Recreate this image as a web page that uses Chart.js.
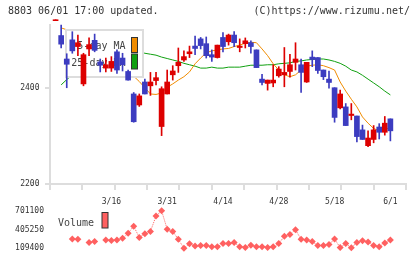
<!DOCTYPE html>
<html>
<head>
<meta charset="utf-8">
<script src="https://cdn.jsdelivr.net/npm/chart.js@4.4.0/dist/chart.umd.min.js"></script>
<style>
  html, body { margin: 0; padding: 0; background: #fff; }
  #wrap { position: relative; width: 420px; height: 259px; overflow: hidden; font-family: "DejaVu Sans Mono", monospace; }
  .hdr { position: absolute; top: 6px; font-size: 10px; line-height: 10px; color: #333; white-space: pre; }
  #main { position: absolute; left: 0; top: 0; }
  #vol { position: absolute; left: 0; top: 200px; }
</style>
</head>
<body>
<div id="wrap">
  <canvas id="main" width="420" height="210"></canvas>
  <canvas id="vol" width="420" height="59"></canvas>
  <div class="hdr" style="left:8px">8803 06/01 17:00 updated.</div>
  <div class="hdr" style="right:10px">(C)https://www.rizumu.net/</div>
</div>
<script>
// trading days 3/2 .. 6/1
const dates = ['3/2','3/3','3/4','3/5','3/6','3/9','3/10','3/11','3/12','3/13',
  '3/16','3/17','3/18','3/19','3/23','3/24','3/25','3/26','3/27','3/30','3/31',
  '4/1','4/2','4/3','4/6','4/7','4/8','4/9','4/10','4/13','4/14',
  '4/15','4/16','4/17','4/20','4/21','4/22','4/23','4/24','4/27','4/28',
  '4/30','5/1','5/7','5/8','5/11','5/12','5/13','5/14','5/15','5/18',
  '5/19','5/20','5/21','5/22','5/25','5/26','5/27','5/28','5/29','6/1'];
const xLabels = ['3/16','3/31','4/14','4/28','5/18','6/1'];
const yTicks = [2200, 2400];

const open  = [2541,2510,2461,2501,2487,2409,2482,2500,2455,2442,
  2442,2476,2463,2435,2388,2365,2413,2405,2416,2320,2388,
  2428,2447,2459,2472,2488,2503,2493,2470,2464,2506,
  2497,2511,2485,2493,2495,2480,2419,2410,2411,2426,
  2428,2435,2454,2449,2413,2465,2464,2438,2419,2401,
  2359,2361,2343,2342,2313,2280,2293,2319,2308,2336];
const high  = [2543,2532,2472,2518,2511,2473,2505,2513,2461,2463,
  2466,2480,2473,2438,2391,2388,2419,2433,2433,2403,2438,
  2447,2484,2478,2488,2509,2506,2507,2480,2490,2516,
  2513,2518,2503,2505,2499,2480,2429,2417,2449,2445,
  2485,2471,2495,2461,2454,2478,2464,2438,2436,2401,
  2396,2368,2368,2342,2323,2311,2322,2326,2341,2336];
const low   = [2541,2484,2401,2473,2468,2405,2468,2476,2434,2434,
  2435,2431,2436,2417,2329,2362,2388,2385,2407,2301,2388,
  2417,2433,2456,2464,2470,2482,2463,2456,2463,2476,
  2490,2487,2476,2484,2473,2443,2407,2396,2403,2423,
  2403,2423,2438,2391,2412,2445,2431,2418,2400,2329,
  2357,2322,2334,2288,2293,2278,2286,2294,2302,2290];
const close = [2543,2492,2450,2478,2495,2470,2491,2479,2448,2449,
  2456,2438,2449,2417,2330,2384,2388,2413,2422,2399,2413,
  2436,2454,2466,2476,2483,2489,2468,2465,2490,2487,
  2511,2495,2488,2499,2487,2443,2412,2417,2417,2440,
  2433,2449,2461,2433,2454,2460,2437,2424,2412,2339,
  2388,2322,2346,2299,2293,2296,2313,2308,2327,2311];

const ma5 = [null,2526,2522,2505,2495,2485,2480,2482,2477,2468,
  2463,2455,2449,2442,2425,2414,2401,2388,2387,2390,2402,
  2409,2417,2424,2434,2451,2463,2474,2478,2480,2482,
  2483,2487,2490,2494,2496,2495,2482,2468,2451,2438,
  2428,2424,2428,2438,2446,2448,2449,2447,2443,2438,
  2413,2394,2377,2361,2340,2327,2316,2311,2313,2319];
const ma25 = [null,2407,2418,2428,2436,2443,2449,2455,2459,2463,
  2466,2469,2471,2473,2475,2476,2473,2471,2469,2465,2462,
  2459,2456,2452,2449,2446,2442,2442,2444,2442,2442,
  2444,2444,2444,2446,2448,2448,2448,2449,2449,2451,
  2452,2453,2456,2457,2459,2460,2461,2461,2459,2456,
  2452,2446,2438,2434,2427,2419,2411,2403,2394,2386];

const volume = [null,null,null,255000,250000,null,201000,215000,null,240000,
  230000,240000,265000,346000,458000,280000,338000,375000,618000,701100,410000,
  375000,250000,109400,178000,143000,153000,153000,134000,134000,182000,
  182000,201000,134000,120000,157000,134000,134000,120000,134000,182000,
  298000,328000,400000,250000,240000,216000,153000,153000,168000,255000,
  120000,182000,115000,201000,226000,207000,153000,134000,192000,240000];

const upColor = '#dd0000';
const downColor = '#3c3cc0';
const ma5Color = '#f08c00';
const ma25Color = '#10a010';
const volColor = '#ff6060';
const axisGray = '#dddddd';
const textColor = '#333333';
const mono = 'DejaVu Sans Mono';
const xMin = -1, xMax = 62.8;

const candleColors = close.map((c, i) => c >= open[i] ? upColor : downColor);

// legend box drawn between the MA lines and the candles
const maLegend = {
  id: 'maLegend',
  beforeDatasetDraw(chart, args) {
    if (args.index !== 1) return;
    const ctx = chart.ctx;
    const a = chart.chartArea;
    const bx = a.left + 16, by = a.top + 5;
    ctx.save();
    ctx.fillStyle = '#ffffff';
    ctx.fillRect(bx, by, 77, 47);
    ctx.strokeStyle = axisGray;
    ctx.lineWidth = 2;
    ctx.strokeRect(bx, by, 77, 47);
    ctx.font = '10px "' + mono + '"';
    ctx.textAlign = 'right';
    ctx.textBaseline = 'alphabetic';
    [2, 3].forEach((di, k) => {
      const ds = chart.data.datasets[di];
      const y = by + 19 + k * 16.5;
      ctx.fillStyle = '#444';
      ctx.fillText(ds.label, bx + 59.5, y);
      ctx.fillStyle = ds.borderColor;
      ctx.fillRect(bx + 65.5, y - 11.5, 6, 15);
      ctx.strokeStyle = '#333';
      ctx.lineWidth = 1;
      ctx.strokeRect(bx + 65.5, y - 11.5, 6, 15);
    });
    ctx.restore();
  }
};

new Chart(document.getElementById('main'), {
  type: 'bar',
  data: {
    datasets: [
      {
        label: 'body',
        data: dates.map((d, i) => ({ x: i, y: [open[i], close[i]] })),
        backgroundColor: candleColors,
        barThickness: 5,
        grouped: false,
        order: 0,
        clip: false
      },
      {
        label: 'wick',
        data: dates.map((d, i) => ({ x: i, y: [low[i], high[i]] })),
        backgroundColor: candleColors,
        barThickness: 1,
        grouped: false,
        order: 1,
        clip: false
      },
      {
        type: 'line',
        label: '5-day MA',
        data: ma5.map((v, i) => ({ x: i, y: v })),
        borderColor: ma5Color,
        borderWidth: 1,
        pointRadius: 0,
        tension: 0,
        order: 2
      },
      {
        type: 'line',
        label: '25-day MA',
        data: ma25.map((v, i) => ({ x: i, y: v })),
        borderColor: ma25Color,
        borderWidth: 1,
        pointRadius: 0,
        tension: 0,
        order: 3
      }
    ]
  },
  options: {
    responsive: false,
    animation: false,
    events: [],
    layout: { padding: { left: 0, right: 14, top: 25, bottom: 0 }, autoPadding: false },
    plugins: { legend: { display: false }, tooltip: { enabled: false } },
    scales: {
      x: {
        type: 'linear', min: xMin, max: xMax, offset: false,
        grid: { drawOnChartArea: false, color: axisGray, lineWidth: 2, tickLength: 6, offset: false },
        border: { color: axisGray, width: 2 },
        ticks: { display: false },
        afterBuildTicks: s => {
          s.ticks = Array.from({ length: 12 }, (_, k) => ({ value: s.min + k * (s.max - s.min) / 11 }));
        },
        afterFit: s => { s.height = 6; }
      },
      xl: {
        axis: 'x', type: 'linear', position: 'bottom', weight: 1,
        min: xMin, max: xMax, offset: false,
        grid: { display: false, drawTicks: false, tickLength: 0 },
        border: { display: false },
        ticks: {
          font: { family: mono, size: 8 }, color: textColor, padding: 7,
          maxRotation: 0, autoSkip: false,
          callback: v => dates[v]
        },
        afterBuildTicks: s => { s.ticks = xLabels.map(l => ({ value: dates.indexOf(l) })); },
        afterFit: s => { s.height = 20; }
      },
      y: {
        min: 2200, max: 2532,
        grid: { drawOnChartArea: false, color: axisGray, lineWidth: 2, tickLength: 5 },
        border: { color: axisGray, width: 2 },
        ticks: { font: { family: mono, size: 8 }, color: textColor, padding: 5.5, callback: v => String(v) },
        afterBuildTicks: s => { s.ticks = yTicks.map(v => ({ value: v })); },
        afterFit: s => { s.width = 50; }
      }
    }
  },
  plugins: [maLegend]
});

// volume panel
const volVals = volume.filter(v => v !== null);
const vMin = Math.min(...volVals), vMax = Math.max(...volVals);

const volLegend = {
  id: 'volLegend',
  afterDatasetsDraw(chart) {
    const ctx = chart.ctx;
    ctx.save();
    ctx.font = '10px "' + mono + '"';
    ctx.textAlign = 'left';
    ctx.textBaseline = 'alphabetic';
    ctx.fillStyle = '#444';
    ctx.fillText('Volume', 58, 26);
    ctx.fillStyle = volColor;
    ctx.fillRect(102, 12.5, 6, 15.5);
    ctx.strokeStyle = '#333';
    ctx.lineWidth = 1;
    ctx.strokeRect(102, 12.5, 6, 15.5);
    ctx.restore();
  }
};

new Chart(document.getElementById('vol'), {
  type: 'line',
  data: {
    datasets: [{
      label: 'Volume',
      data: volume.map((v, i) => ({ x: i, y: v })),
      borderColor: volColor,
      backgroundColor: volColor,
      borderWidth: 1,
      borderDash: [1, 1],
      pointStyle: 'rectRot',
      pointRadius: 3.5,
      pointBorderWidth: 0,
      tension: 0,
      clip: false
    }]
  },
  options: {
    responsive: false,
    animation: false,
    events: [],
    layout: { padding: { left: 0, right: 14, top: 8.3, bottom: 10 }, autoPadding: false },
    plugins: { legend: { display: false }, tooltip: { enabled: false } },
    scales: {
      x: { type: 'linear', min: xMin, max: xMax, display: false, offset: false },
      y: {
        min: vMin, max: vMax,
        grid: { display: false, drawTicks: false, tickLength: 0 },
        border: { display: false },
        ticks: { font: { family: mono, size: 8 }, color: textColor, padding: 6, callback: v => String(v) },
        afterBuildTicks: s => { s.ticks = [vMin, (vMin + vMax) / 2, vMax].map(v => ({ value: v })); },
        afterFit: s => { s.width = 50; }
      }
    }
  },
  plugins: [volLegend]
});
</script>
</body>
</html>
